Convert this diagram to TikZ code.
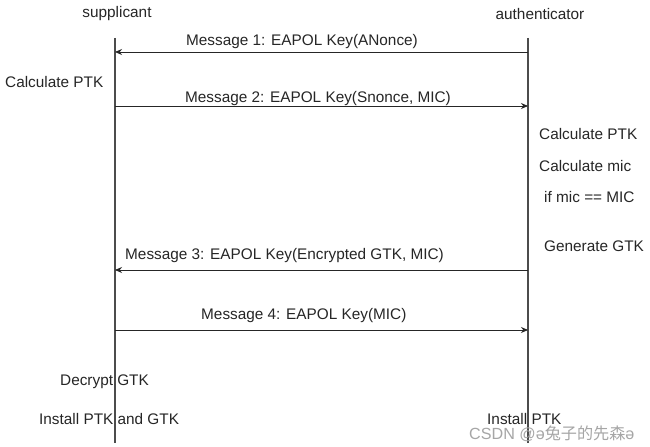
\documentclass[tikz,border=0pt]{standalone}
\usepackage{fontspec}
\setmainfont{Liberation Sans}
\newfontfamily\cjk{Noto Sans CJK SC}
\usetikzlibrary{arrows.meta}
\begin{document}
\begin{tikzpicture}[x=1bp,y=-1bp,
  lbl/.style={inner sep=0pt,text=black!85,font=\fontsize{15.4}{18}\selectfont},
  life/.style={draw=black!70,line width=1.1bp},
  msg/.style={draw=black!85,line width=0.9bp,-{Stealth[length=7bp,width=6bp]}},
  wm/.style={inner sep=0pt,text=black!35,font=\fontsize{16.2}{18}\selectfont}]
\useasboundingbox (0,0) rectangle (650,447);
\fill[white] (0,0) rectangle (650,447);
% lifelines
\coordinate (s0) at (115,38); \coordinate (s1) at (115,443);
\coordinate (a0) at (528,38); \coordinate (a1) at (528,443);
\draw[life] (s0) -- (s1);
\draw[life] (a0) -- (a1);
% message endpoints
\coordinate (a-m1) at (528,52);  \coordinate (s-m1) at (115,52);
\coordinate (s-m2) at (115,106); \coordinate (a-m2) at (528,106);
\coordinate (a-m3) at (528,270); \coordinate (s-m3) at (115,270);
\coordinate (s-m4) at (115,330); \coordinate (a-m4) at (528,330);
\draw[msg] (a-m1) -- (s-m1);
\draw[msg] (s-m2) -- (a-m2);
\draw[msg] (a-m3) -- (s-m3);
\draw[msg] (s-m4) -- (a-m4);
% headers
\node[lbl] (sup) at (117,14) {supplicant};
\node[lbl] (auth) at (540,14) {authenticator};
% message labels
\node[lbl] (l1) at (302,42) {Message 1: EAPOL Key(ANonce)};
\node[lbl] (l2) at (318,99) {Message 2: EAPOL Key(Snonce, MIC)};
\node[lbl,anchor=west] (l3) at (125,256) {Message 3: EAPOL Key(Encrypted GTK, MIC)};
\node[lbl,anchor=west] (l4) at (201,316) {Message 4: EAPOL Key(MIC)};
% actions
\node[lbl,anchor=west] (c1) at (5,82) {Calculate PTK};
\node[lbl,anchor=west] (c2) at (539,134) {Calculate PTK};
\node[lbl,anchor=west] (c3) at (539,166) {Calculate mic};
\node[lbl,anchor=west] (c4) at (544,197) {if mic == MIC};
\node[lbl,anchor=west] (c5) at (544,246) {Generate GTK};
\node[lbl,anchor=west] (c6) at (60,382) {Decrypt GTK};
\node[lbl,anchor=west] (c7) at (39,419) {Install PTK and GTK};
\node[lbl,anchor=west] (c8) at (487,419) {Install PTK};
% watermark
\node[wm,anchor=west] (wm) at (469,434) {CSDN @ə{\cjk 兔子的先森}ə};
\end{tikzpicture}
\end{document}
